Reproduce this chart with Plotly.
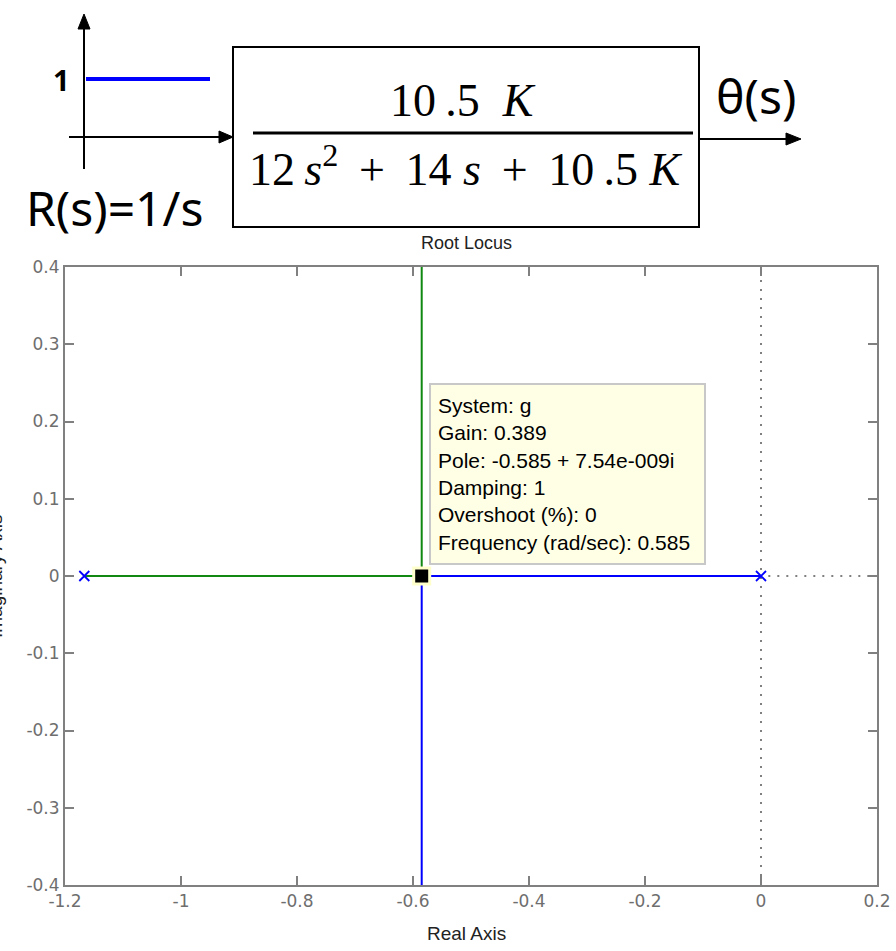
import plotly.graph_objects as go

# ---------------- data ----------------
pole_re = [-1.1667, 0.0]
pole_im = [0.0, 0.0]
breakaway = -0.585
branch_green_x = [-1.1667, -0.585, -0.585]
branch_green_y = [0.0, 0.0, 0.45]
branch_blue_x = [0.0, -0.585, -0.585]
branch_blue_y = [0.0, 0.0, -0.45]
splane_vx = [0.0, 0.0]
splane_vy = [-0.4, 0.4]
splane_hx = [-1.1667, 0.2]
splane_hy = [0.0, 0.0]
x_ticks = [-1.2, -1.0, -0.8, -0.6, -0.4, -0.2, 0.0, 0.2]
x_ticktext = ["-1.2", "-1", "-0.8", "-0.6", "-0.4", "-0.2", "0", "0.2"]
y_ticks = [-0.4, -0.3, -0.2, -0.1, 0.0, 0.1, 0.2, 0.3, 0.4]
y_ticktext = ["-0.4", "-0.3", "-0.2", "-0.1", "0", "0.1", "0.2", "0.3", "0.4"]
datatip_lines = ["System: g", "Gain: 0.389", "Pole: -0.585 + 7.54e-009i",
                 "Damping: 1", "Overshoot (%): 0", "Frequency (rad/sec): 0.585"]

# ---------------- layout helpers ----------------
FW, FH = 896, 951
L, T, W, H = 65, 267, 812, 618


def px(x):
    return (x - L) / W


def py(y):
    return (T + H - y) / H


GRAY = "#808080"
BLUE = "#0000ff"
GREEN = "#118811"

fig = go.Figure()

fig.add_trace(go.Scatter(x=splane_vx, y=splane_vy, mode="lines",
                         line=dict(color=GRAY, width=2, dash="2px,7px"),
                         hoverinfo="skip", showlegend=False))
fig.add_trace(go.Scatter(x=splane_hx, y=splane_hy, mode="lines",
                         line=dict(color=GRAY, width=2, dash="2px,7px"),
                         hoverinfo="skip", showlegend=False))
fig.add_trace(go.Scatter(x=branch_green_x, y=branch_green_y, mode="lines",
                         line=dict(color=GREEN, width=2), showlegend=False))
fig.add_trace(go.Scatter(x=branch_blue_x, y=branch_blue_y, mode="lines",
                         line=dict(color=BLUE, width=2), showlegend=False))
fig.add_trace(go.Scatter(x=pole_re, y=pole_im, mode="markers",
                         marker=dict(symbol="x-thin", size=10, color=BLUE,
                                     line=dict(color=BLUE, width=1.8)),
                         showlegend=False))
fig.add_trace(go.Scatter(x=[breakaway], y=[0.0], mode="markers",
                         marker=dict(symbol="square", size=16, color="black",
                                     line=dict(color="#ffffcc", width=3)),
                         showlegend=False))

shapes = []
# block box
shapes.append(dict(type="rect", xref="paper", yref="paper",
                   x0=px(233), x1=px(699), y0=py(227), y1=py(47),
                   line=dict(color="black", width=2)))
# fraction bar
shapes.append(dict(type="line", xref="paper", yref="paper",
                   x0=px(253), x1=px(693), y0=py(133), y1=py(133),
                   line=dict(color="black", width=3)))
# input time axis (horizontal) with arrow into box
shapes.append(dict(type="line", xref="paper", yref="paper",
                   x0=px(69), x1=px(221), y0=py(137), y1=py(137),
                   line=dict(color="black", width=2)))
shapes.append(dict(type="path", xref="paper", yref="paper",
                   path=f"M {px(233)},{py(137)} L {px(219)},{py(131)} L {px(219)},{py(143)} Z",
                   fillcolor="black", line=dict(color="black", width=1)))
# vertical axis with arrow up
shapes.append(dict(type="line", xref="paper", yref="paper",
                   x0=px(84), x1=px(84), y0=py(169), y1=py(27),
                   line=dict(color="black", width=2)))
shapes.append(dict(type="path", xref="paper", yref="paper",
                   path=f"M {px(84)},{py(14)} L {px(78)},{py(29)} L {px(90)},{py(29)} Z",
                   fillcolor="black", line=dict(color="black", width=1)))
# output arrow
shapes.append(dict(type="line", xref="paper", yref="paper",
                   x0=px(699), x1=px(787), y0=py(139), y1=py(139),
                   line=dict(color="black", width=2)))
shapes.append(dict(type="path", xref="paper", yref="paper",
                   path=f"M {px(801)},{py(139)} L {px(786)},{py(133)} L {px(786)},{py(145)} Z",
                   fillcolor="black", line=dict(color="black", width=1)))
# step input (blue)
shapes.append(dict(type="line", xref="paper", yref="paper",
                   x0=px(86), x1=px(210), y0=py(79), y1=py(79),
                   line=dict(color=BLUE, width=4)))
# datatip box
shapes.append(dict(type="rect", xref="paper", yref="paper",
                   x0=px(430), x1=px(705), y0=py(564), y1=py(384),
                   fillcolor="#ffffe6", line=dict(color="#c8c8c8", width=2)))

ann = []
SERIF = "Liberation Serif, Times New Roman, serif"
HAND = "Noto Sans, sans-serif"
SANS = "Liberation Sans, Arial, sans-serif"
TICK = "DejaVu Sans, sans-serif"
NB = "\u00a0"
TH = "\u2009"
ann.append(dict(xref="paper", yref="paper", x=px(463), y=py(101),
                text=f"10{TH}.5{NB}{NB}<i>K</i>", showarrow=False,
                font=dict(family=SERIF, size=46, color="black"),
                xanchor="center", yanchor="middle"))
ann.append(dict(xref="paper", yref="paper", x=px(466), y=py(166),
                text=f"12{TH}<i>s</i><sup>2</sup>{NB}{TH}+{NB}{TH}14{NB}<i>s</i>{NB}{TH}+{NB}{TH}10{TH}.5{NB}<i>K</i>",
                showarrow=False,
                font=dict(family=SERIF, size=46, color="black"),
                xanchor="center", yanchor="middle"))
ann.append(dict(xref="paper", yref="paper", x=px(756), y=py(96),
                text="θ(s)", showarrow=False,
                font=dict(family=HAND, size=48, color="black"),
                xanchor="center", yanchor="middle"))
ann.append(dict(xref="paper", yref="paper", x=px(114), y=py(207),
                text="R(s)=1/s", showarrow=False,
                font=dict(family=HAND, size=48, color="black"),
                xanchor="center", yanchor="middle"))
ann.append(dict(xref="paper", yref="paper", x=px(61), y=py(79),
                text="<b>1</b>", showarrow=False,
                font=dict(family=HAND, size=29, color="black"),
                xanchor="center", yanchor="middle"))
# chart title and axis labels
ann.append(dict(xref="paper", yref="paper", x=px(466), y=py(243),
                text="Root Locus", showarrow=False,
                font=dict(family=SANS, size=18, color="#222222"),
                xanchor="center", yanchor="middle"))
ann.append(dict(xref="paper", yref="paper", x=px(466), y=py(933),
                text="Real Axis", showarrow=False,
                font=dict(family=SANS, size=19, color="#222222"),
                xanchor="center", yanchor="middle"))
ann.append(dict(xref="paper", yref="paper", x=px(-5), y=py(576),
                text="Imaginary Axis", showarrow=False, textangle=-90,
                font=dict(family=SANS, size=19, color="#222222"),
                xanchor="center", yanchor="middle"))
# datatip text
ann.append(dict(xref="paper", yref="paper", x=px(436), y=py(474),
                text="<br>".join(datatip_lines), showarrow=False, align="left",
                font=dict(family=SANS, size=21, color="black"),
                xanchor="left", yanchor="middle"))

axis_common = dict(showgrid=False, zeroline=False, showline=True, linecolor=GRAY,
                   linewidth=2, mirror="ticks", ticks="inside", ticklen=9,
                   tickwidth=1.5, tickcolor=GRAY, ticklabeloverflow="allow",
                   tickfont=dict(family=TICK, size=17, color="#6e6e6e"))

fig.update_layout(
    width=FW, height=FH,
    margin=dict(l=L, r=FW - L - W, t=T, b=FH - T - H, autoexpand=False),
    paper_bgcolor="white", plot_bgcolor="white",
    showlegend=False,
    xaxis=dict(range=[-1.2, 0.2], tickvals=x_ticks, ticktext=x_ticktext, **axis_common),
    yaxis=dict(range=[-0.4, 0.4], tickvals=y_ticks, ticktext=y_ticktext, **axis_common),
    shapes=shapes, annotations=ann,
)

fig.write_html("out.html", config={"displayModeBar": False},
               post_script="document.body.style.margin='0px';document.body.style.overflow='hidden';")
